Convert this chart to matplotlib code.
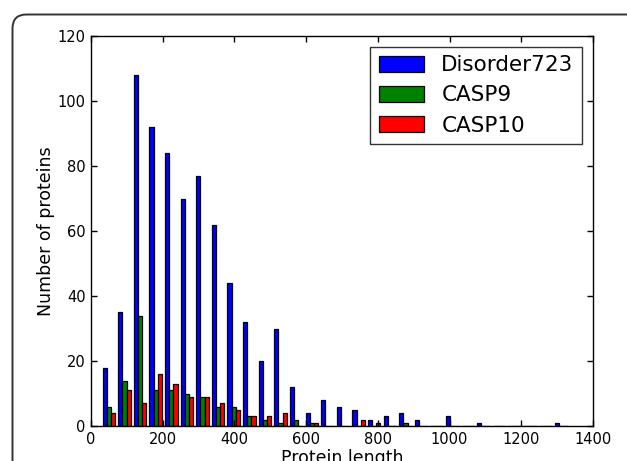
import matplotlib
matplotlib.use("Agg")
import matplotlib.pyplot as plt
import matplotlib.patches as mpatches
import numpy as np

# ── Data: per-bin protein counts (30 equal bins over the length range) ───────
LENGTH_MIN = 28
LENGTH_MAX = 1334
N_BINS = 30

labels = ["Disorder723", "CASP9", "CASP10"]
colors = ["blue", "green", "red"]

disorder723 = [18, 35, 108, 92, 84, 70, 77, 62, 44, 32,
               20, 30, 12, 4, 8, 6, 5, 2, 3, 4,
               2, 0, 3, 0, 1, 0, 0, 0, 0, 1]
casp9 = [6, 14, 34, 11, 11, 10, 9, 6, 6, 3,
         2, 1, 2, 1, 0, 0, 0, 0, 0, 1,
         0, 0, 0, 0, 0, 0, 0, 0, 0, 0]
casp10 = [4, 11, 7, 16, 13, 9, 9, 7, 5, 3,
          3, 4, 0, 1, 0, 0, 2, 1, 0, 0,
          0, 0, 0, 0, 0, 0, 0, 0, 0, 0]

xticks = [0, 200, 400, 600, 800, 1000, 1200, 1400]
yticks = [0, 20, 40, 60, 80, 100, 120]

# ── Figure ────────────────────────────────────────────────────────────────────
W, H, DPI = 627, 461, 100
fig = plt.figure(figsize=(W / DPI, H / DPI), dpi=DPI)
fig.patch.set_facecolor("white")

# rounded frame around the (cropped) figure, drawn in pixel units
bg = fig.add_axes([0, 0, 1, 1], zorder=0)
bg.set_xlim(0, W)
bg.set_ylim(H, 0)
bg.axis("off")
frame = mpatches.FancyBboxPatch(
    (12.5, 14.5), 700, 600,
    boxstyle="round,pad=0,rounding_size=14",
    facecolor="none", edgecolor="#333333", linewidth=1.4,
)
bg.add_patch(frame)

ax = fig.add_axes([91 / W, 1 - 426 / H, (593 - 91) / W, (426 - 36) / H], zorder=1)

edges = np.linspace(LENGTH_MIN, LENGTH_MAX, N_BINS + 1)
centers = (edges[:-1] + edges[1:]) / 2
ax.hist([centers, centers, centers], bins=edges,
        weights=[disorder723, casp9, casp10],
        color=colors, label=labels, edgecolor="black", linewidth=0.9)

ax.set_xlim(0, 1400)
ax.set_ylim(0, 120)
ax.set_xticks(xticks)
ax.set_yticks(yticks)
ax.tick_params(direction="in", length=4, width=1, top=True, right=True,
               labelsize=10.5, pad=4)
for sp in ax.spines.values():
    sp.set_linewidth(1.0)

ax.set_xlabel("Protein length", fontsize=12.5, labelpad=2)
ax.set_ylabel("Number of proteins", fontsize=12.5, labelpad=2)

leg = ax.legend(loc="upper right", fontsize=15.5, fancybox=False,
                borderaxespad=0.5, handlelength=2.1, handleheight=0.8,
                labelspacing=0.47, borderpad=0.4, handletextpad=0.8)
leg.get_frame().set_edgecolor("black")
leg.get_frame().set_linewidth(1.0)

fig.savefig("out.png", dpi=DPI, facecolor="white")
